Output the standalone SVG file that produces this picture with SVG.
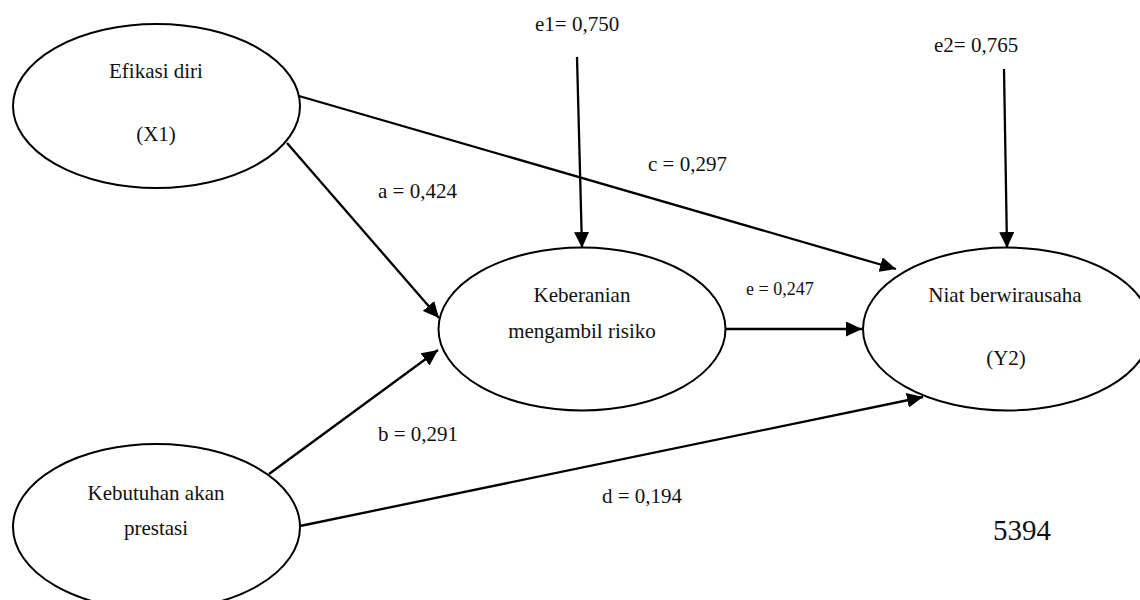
<svg xmlns="http://www.w3.org/2000/svg" width="1140" height="600" viewBox="0 0 1140 600">
<style>
.node{fill:#fff;stroke:#000;stroke-width:2}
.t{font-family:"Liberation Serif","Times New Roman",serif;font-size:21px;fill:#111;text-anchor:middle}
.lbl{font-family:"Liberation Serif","Times New Roman",serif;font-size:21px;fill:#111}
.edge{stroke:#000;stroke-width:2.3;fill:none;marker-end:url(#ah)}
</style>
<defs>
<marker id="ah" markerUnits="userSpaceOnUse" markerWidth="17" markerHeight="15" refX="16" refY="7.5" orient="auto">
<path d="M0,0 L16,7.5 L0,15 Z" fill="#000"/>
</marker>
</defs>
<rect width="1140" height="600" fill="#fff"/>
<g id="efikasi">
<ellipse class="node" cx="156.5" cy="106" rx="143.5" ry="82"/>
<text class="t" x="156" y="78">Efikasi diri</text>
<text class="t" x="156" y="141">(X1)</text>
</g>
<g id="keberanian">
<ellipse class="node" cx="582" cy="329" rx="143.5" ry="81.5"/>
<text class="t" x="582" y="302">Keberanian</text>
<text class="t" x="582" y="338">mengambil risiko</text>
</g>
<g id="niat">
<ellipse class="node" cx="1007" cy="329" rx="144" ry="81.5"/>
<text class="t" x="1005" y="302">Niat berwirausaha</text>
<text class="t" x="1006" y="365">(Y2)</text>
</g>
<g id="kebutuhan">
<ellipse class="node" cx="156.5" cy="527" rx="143.5" ry="83"/>
<text class="t" x="156" y="500">Kebutuhan akan</text>
<text class="t" x="156" y="535">prestasi</text>
</g>
<g id="connectors">
<line class="edge" x1="577" y1="57" x2="582" y2="248"/>
<line class="edge" x1="1004" y1="69" x2="1007" y2="248"/>
<line class="edge" x1="299" y1="96" x2="896" y2="269"/>
<line class="edge" x1="287" y1="143" x2="439" y2="318"/>
<line class="edge" x1="269" y1="474" x2="438" y2="350"/>
<line class="edge" x1="725" y1="329" x2="862" y2="329"/>
<line class="edge" x1="300" y1="526" x2="923" y2="397"/>
</g>
<g id="labels">
<text class="lbl" x="535" y="31">e1= 0,750</text>
<text class="lbl" x="934" y="52">e2= 0,765</text>
<text class="lbl" x="378" y="198">a = 0,424</text>
<text class="lbl" x="378" y="441">b = 0,291</text>
<text class="lbl" x="648" y="171">c = 0,297</text>
<text class="lbl" x="746" y="295" style="font-size:18px">e = 0,247</text>
<text class="lbl" x="602" y="503">d = 0,194</text>
<text class="lbl" x="993" y="540" style="font-size:29px">5394</text>
</g>
</svg>
